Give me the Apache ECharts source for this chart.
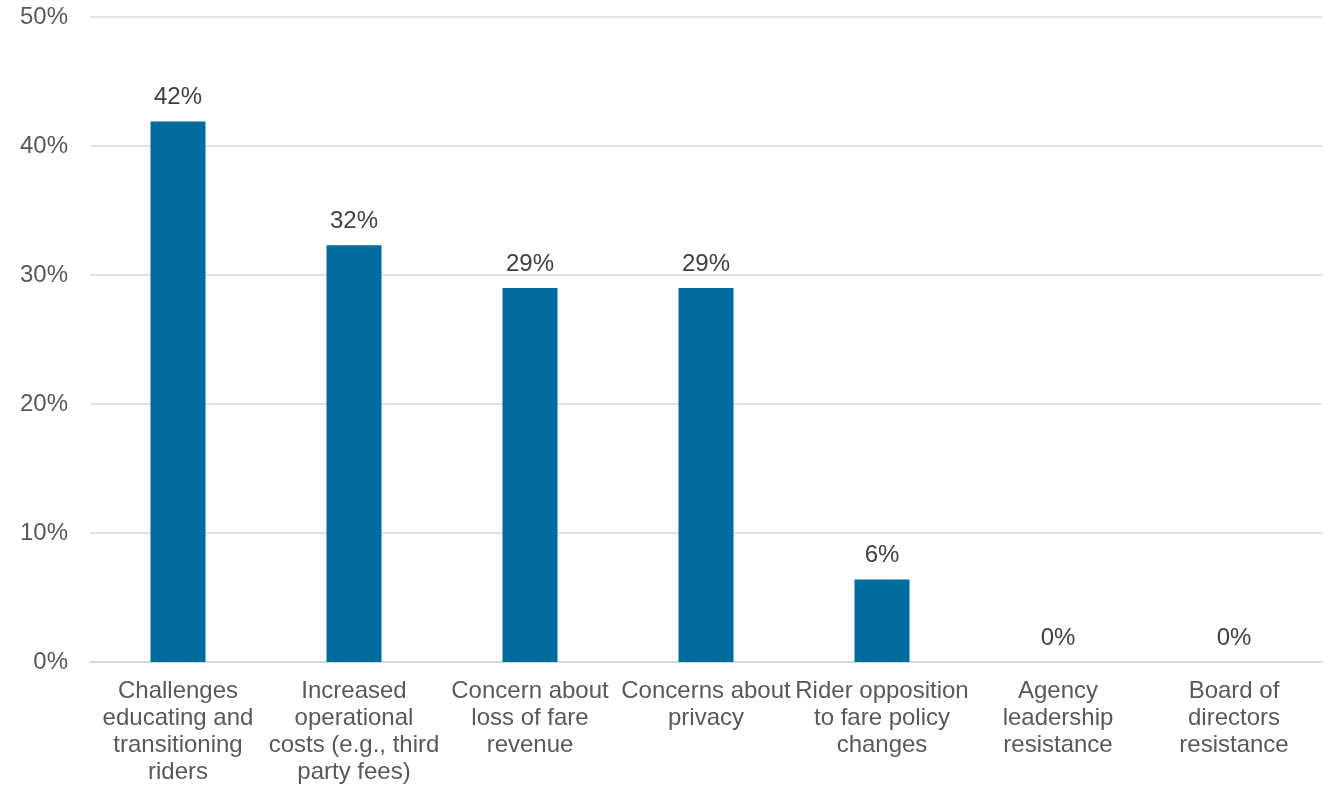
<!DOCTYPE html>
<html>
<head>
<meta charset="utf-8">
<script src="https://cdn.jsdelivr.net/npm/echarts@6/dist/echarts.min.js"></script>
<style>
  html, body { margin: 0; padding: 0; background: #ffffff; }
  #chart { width: 1332px; height: 788px; }
</style>
</head>
<body>
<div id="chart"></div>
<script>
// Barriers reported by agencies (share of respondents)
const categories = [
  'Challenges\neducating and\ntransitioning\nriders',
  'Increased\noperational\ncosts (e.g., third\nparty fees)',
  'Concern about\nloss of fare\nrevenue',
  'Concerns about\nprivacy',
  'Rider opposition\nto fare policy\nchanges',
  'Agency\nleadership\nresistance',
  'Board of\ndirectors\nresistance'
];
const shares = [41.9, 32.3, 29.0, 29.0, 6.4, 0, 0];
const yTicks = [0, 10, 20, 30, 40, 50];

const FONT = '"Liberation Sans", Arial, sans-serif';

const chart = echarts.init(document.getElementById('chart'), null, { renderer: 'canvas' });
chart.setOption({
  animation: false,
  grid: { left: 90, right: 10, top: 17, bottom: 126, containLabel: false },
  xAxis: {
    type: 'category',
    data: categories,
    axisLine: { show: true, lineStyle: { color: '#d9d9d9', width: 2 } },
    axisTick: { show: false },
    axisLabel: {
      interval: 0,
      color: '#595959',
      fontFamily: FONT,
      fontSize: 24,
      lineHeight: 27,
      margin: 16,
      align: 'center'
    }
  },
  yAxis: {
    type: 'value',
    min: yTicks[0],
    max: yTicks[yTicks.length - 1],
    interval: 10,
    axisLine: { show: false },
    axisTick: { show: false },
    splitLine: { lineStyle: { color: '#d9d9d9', width: 1.5 } },
    axisLabel: {
      color: '#595959',
      fontFamily: FONT,
      fontSize: 24,
      margin: 22,
      formatter: v => v + '%'
    }
  },
  series: [{
    type: 'bar',
    data: shares,
    barWidth: 55,
    itemStyle: { color: '#006d9c' },
    label: {
      show: true,
      position: 'top',
      distance: 12,
      color: '#404040',
      fontFamily: FONT,
      fontSize: 24,
      formatter: p => Math.round(p.value) + '%'
    }
  }]
});
</script>
</body>
</html>
